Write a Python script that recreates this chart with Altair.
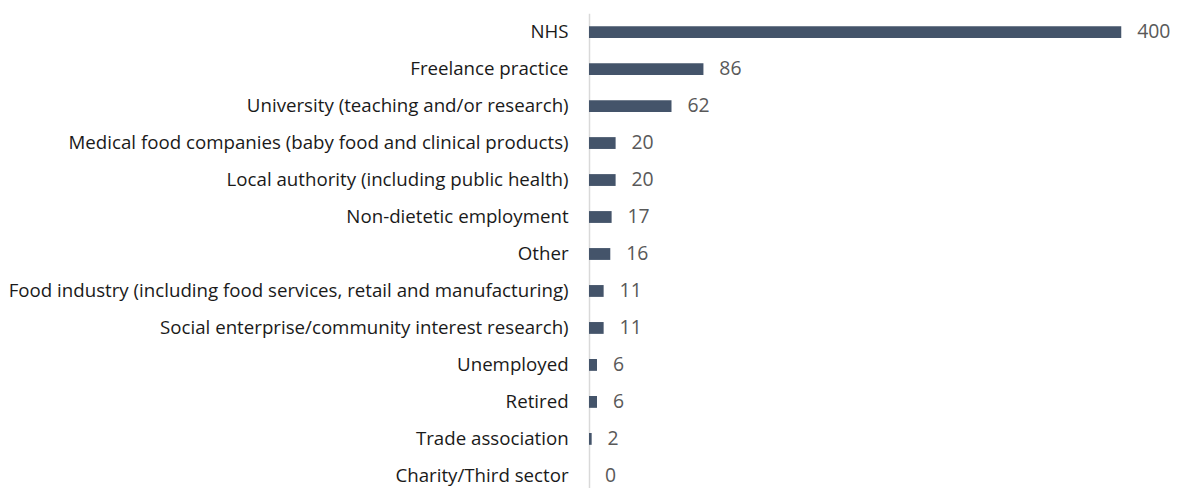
import altair as alt
import pandas as pd

categories = [
    "NHS",
    "Freelance practice",
    "University (teaching and/or research)",
    "Medical food companies (baby food and clinical products)",
    "Local authority (including public health)",
    "Non-dietetic employment",
    "Other",
    "Food industry (including food services, retail and manufacturing)",
    "Social enterprise/community interest research)",
    "Unemployed",
    "Retired",
    "Trade association",
    "Charity/Third sector",
]
values = [400, 86, 62, 20, 20, 17, 16, 11, 11, 6, 6, 2, 0]

df = pd.DataFrame({"category": categories, "value": values})

base = alt.Chart(df).encode(
    y=alt.Y(
        "category:N",
        sort=categories,
        scale=alt.Scale(paddingInner=0.68, paddingOuter=0.35),
        axis=alt.Axis(
            title=None,
            ticks=False,
            domainColor="#D9D9D9",
            domainWidth=1.5,
            labelFont="Open Sans",
            labelFontSize=18.8,
            labelColor="#1a1a1a",
            labelPadding=21,
            labelLimit=0,
        ),
    ),
    x=alt.X("value:Q", scale=alt.Scale(domain=[0, 400], nice=False), axis=None),
)

bars = base.mark_bar(color="#44546A")
text = base.mark_text(
    align="left", baseline="middle", dx=16, font="Open Sans", fontSize=19.5, color="#595959"
).encode(text="value:Q")

chart = (
    (bars + text)
    .properties(
        width=535,
        height=484,
        padding={"left": 584, "top": 4, "right": 50, "bottom": 0},
        autosize=alt.AutoSizeParams(type="none"),
    )
    .configure_view(stroke=None)
)

chart.save("out.html", embed_options={"renderer": "svg", "actions": False})
